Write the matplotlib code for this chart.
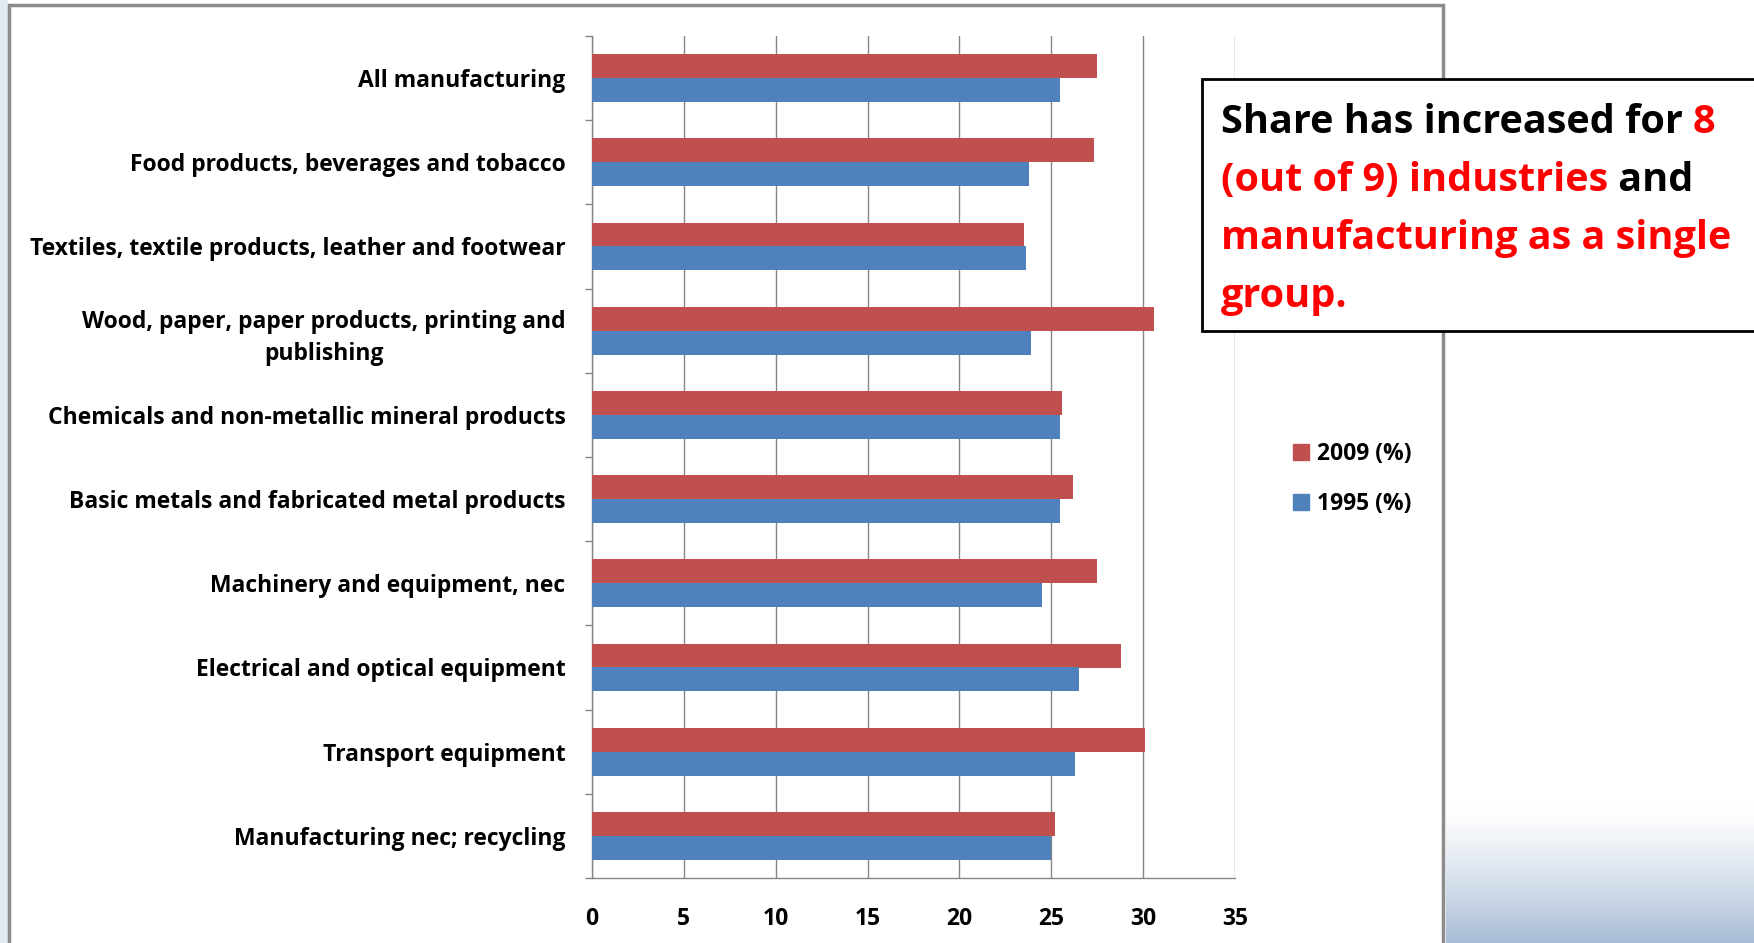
import numpy as np
import matplotlib
matplotlib.use('Agg')
from matplotlib import pyplot as plt
from matplotlib.patches import Rectangle, Patch

plt.rcParams['font.family'] = ['Open Sans', 'DejaVu Sans']
plt.rcParams['font.weight'] = 'bold'

# data (top to bottom)
industries = [
    'All manufacturing',
    'Food products, beverages and tobacco',
    'Textiles, textile products, leather and footwear',
    'Wood, paper, paper products, printing and\npublishing',
    'Chemicals and non-metallic mineral products',
    'Basic metals and fabricated metal products',
    'Machinery and equipment, nec',
    'Electrical and optical equipment',
    'Transport equipment',
    'Manufacturing nec; recycling',
]
share_2009 = [27.5, 27.3, 23.5, 30.6, 25.6, 26.2, 27.5, 28.8, 30.1, 25.2]
share_1995 = [25.5, 23.8, 23.6, 23.9, 25.5, 25.5, 24.5, 26.5, 26.3, 25.0]
x_ticks = [0, 5, 10, 15, 20, 25, 30, 35]

red = '#C0504D'
blue = '#4F81BD'
grey = '#868686'

W, H = 1754, 943
fig = plt.figure(figsize=(W / 100, H / 100), dpi=100)
fig.patch.set_facecolor('white')

# slide background bits: gradient in bottom right, faint blue left edge
bg = fig.add_axes([1446 / W, 0, 1 - 1446 / W, 140 / H], zorder=-5)
grad = np.linspace(0, 1, 100)[:, None] ** 1.3
top_c = np.array([1.0, 1.0, 1.0])
bot_c = np.array([0.66, 0.74, 0.84])
img = top_c + (bot_c - top_c) * grad[..., None]
bg.imshow(np.repeat(img, 10, axis=1), aspect='auto', origin='upper')
bg.axis('off')
fig.patches.append(Rectangle((0, 0), 8 / W, 1, transform=fig.transFigure,
                             facecolor='#e3eaf3', edgecolor='none', zorder=-4))

# chart area frame
fig.patches.append(Rectangle((9 / W, -0.1), (1443 - 9) / W, 1.1 - 5 / H,
                             transform=fig.transFigure, facecolor='none',
                             edgecolor='#8c8c8c', linewidth=2.5, zorder=3))

ax = fig.add_axes([592 / W, 1 - 878 / H, (1235 - 592) / W, (878 - 36) / H])
y = np.arange(len(industries))
h = 0.285
ax.barh(y - h / 2, share_2009, height=h, color=red, label='2009 (%)', zorder=3)
ax.barh(y + h / 2, share_1995, height=h, color=blue, label='1995 (%)', zorder=3)

lab_fs = 16.5
ax.set_xlim(0, 35)
ax.set_ylim(len(industries) - 0.5, -0.5)
ax.set_xticks(x_ticks)
ax.set_xticklabels([str(t) for t in x_ticks], fontsize=lab_fs, fontweight='bold')
ax.set_yticks(y)
ax.set_yticklabels(industries, fontsize=lab_fs, fontweight='bold')
for t in ax.get_yticklabels():
    t.set_multialignment('center')
    t.set_linespacing(1.45)
ax.set_yticks(np.arange(-0.5, len(industries)), minor=True)
ax.tick_params(axis='y', which='major', length=0, pad=19)
ax.tick_params(axis='y', which='minor', length=5, color=grey, width=1)
ax.tick_params(axis='x', length=0, pad=21)
ax.grid(axis='x', color=grey, linewidth=1, zorder=0)
for s in ['top', 'right']:
    ax.spines[s].set_visible(False)
for s in ['left', 'bottom']:
    ax.spines[s].set_color(grey)
    ax.spines[s].set_linewidth(1)

# legend
leg = fig.legend(handles=[Patch(color=red, label='2009 (%)'),
                          Patch(color=blue, label='1995 (%)')],
                 loc='center left', bbox_to_anchor=(1272 / W, 1 - 479 / H),
                 frameon=False, fontsize=lab_fs, handlelength=0.7, handleheight=0.7,
                 handletextpad=0.35, labelspacing=1.15)

# annotation box
fig.patches.append(Rectangle((1202 / W, 1 - 331 / H), 0.5, 252 / H,
                             transform=fig.transFigure, facecolor='white',
                             edgecolor='black', linewidth=2, zorder=4))
lines = [
    [('Share has increased for ', 'black'), ('8', 'red')],
    [('(out of 9) industries', 'red'), (' and', 'black')],
    [('manufacturing as a single', 'red')],
    [('group.', 'red')],
]
baselines = [133, 191, 249, 307]
fs = 28.5
pieces = []
for parts, base in zip(lines, baselines):
    row = []
    for txt, col in parts:
        t = fig.text(1221 / W, 1 - base / H, txt, color=col, fontsize=fs,
                     fontweight='bold', va='baseline', zorder=6)
        row.append(t)
    pieces.append((row, base))

# put each coloured piece right after the previous one
fig.canvas.draw()
renderer = fig.canvas.get_renderer()
for row, base in pieces:
    x_px = None
    for k, t in enumerate(row):
        if k > 0:
            t.set_position((x_px / W, 1 - base / H))
        x_px = t.get_window_extent(renderer).x1

fig.savefig('out.png', dpi=100)
